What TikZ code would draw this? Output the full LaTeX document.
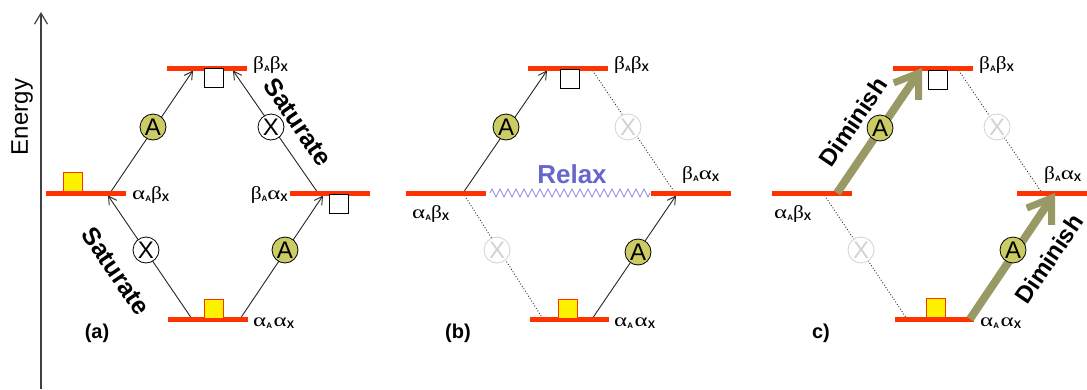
\documentclass[tikz,border=0pt]{standalone}
\usepackage{fontspec}
\setmainfont{Liberation Sans}
\newfontfamily\grkfont{Liberation Serif}
\usepackage{graphicx}
\usetikzlibrary{arrows.meta,decorations.pathmorphing}
\definecolor{lvl}{RGB}{255,51,0}
\definecolor{olv}{RGB}{204,204,102}
\definecolor{darr}{RGB}{153,153,102}
\definecolor{relaxtxt}{RGB}{102,102,204}
\definecolor{relaxln}{RGB}{140,140,225}
\definecolor{faint}{RGB}{210,210,210}
\newcommand\subA{\raisebox{-2.5pt}{\fontsize{8}{8}\selectfont\bfseries A}}
\newcommand\subX{\raisebox{-2.5pt}{\fontsize{11}{11}\selectfont\bfseries X}}
\newcommand\grb{\scalebox{1.15}[1]{\grkfont\fontsize{18.5}{18.5}\selectfont β}}
\newcommand\gra{\scalebox{1.35}[1]{\grkfont\fontsize{18.5}{18.5}\selectfont α}}
\newcommand\labBB{\grb\subA\grb\subX}
\newcommand\labAB{\gra\subA\grb\subX}
\newcommand\labBA{\grb\subA\gra\subX}
\newcommand\labAA{\gra\subA\,\gra\subX}
\tikzset{
  level/.style={line width=5pt, draw=lvl},
  thinarr/.style={line width=0.9pt, draw=black!85, -{Straight Barb[length=8pt,width=9pt]}},
  dots/.style={line width=0.9pt, dotted, draw=black!85},
  dimarr/.style={line width=8pt, draw=darr, -{Straight Barb[length=22pt,width=30pt,line width=7pt]}},
  circA/.style={circle, draw, fill=olv, minimum size=26pt, inner sep=0pt, line width=0.8pt, font=\fontsize{24}{24}\selectfont},
  circX/.style={circle, draw, fill=white, minimum size=26pt, inner sep=0pt, line width=0.8pt, font=\fontsize{24}{24}\selectfont},
  circF/.style={circle, draw=faint, text=faint, fill=white, minimum size=26pt, inner sep=0pt, line width=0.8pt, font=\fontsize{24}{24}\selectfont},
  wbox/.style={draw, fill=white, minimum size=19pt, inner sep=0pt, line width=0.8pt},
  ybox/.style={draw=lvl, fill=yellow, minimum size=19pt, inner sep=0pt, line width=0.8pt},
  big/.style={font=\fontsize{25}{25}\selectfont\bfseries, inner sep=0pt},
  lab/.style={inner sep=0pt},
  plab/.style={font=\fontsize{20}{20}\selectfont\bfseries, inner sep=0pt},
}
\begin{document}
\begin{tikzpicture}[x=1pt,y=-1pt]
\useasboundingbox (0,0) rectangle (1087,389);
\clip (0,0) rectangle (1087,389);
\fill[white] (0,0) rectangle (1087,389);
% energy axis
\coordinate (axB) at (41,389);
\coordinate (axT) at (41,12);
\draw[line width=1.2pt, draw=black!75, -{Straight Barb[length=11pt,width=13pt]}] (axB) -- (axT);
\node[rotate=90, font=\fontsize{24}{24}\selectfont, inner sep=0pt] (energy) at (22,117) {Energy};

% ===== panel a =====
\coordinate (aL1) at (110,193); \coordinate (aT1) at (193,70.5);
\coordinate (aR1) at (318,193); \coordinate (aT2) at (233,70.5);
\coordinate (aB1) at (192,319); \coordinate (aL2) at (108,195.5);
\coordinate (aB2) at (240,319); \coordinate (aR2) at (323,195.5);
\draw[thinarr] (aL1) -- (aT1);
\draw[thinarr] (aR1) -- (aT2);
\draw[thinarr] (aB1) -- (aL2);
\draw[thinarr] (aB2) -- (aR2);
\coordinate (aTs) at (167,68); \coordinate (aTe) at (247,68);
\coordinate (aLs) at (46,193); \coordinate (aLe) at (126,193);
\coordinate (aRs) at (290,193); \coordinate (aRe) at (370,193);
\coordinate (aBs) at (168,319); \coordinate (aBe) at (248,319);
\draw[level] (aTs) -- (aTe);
\draw[level] (aLs) -- (aLe);
\draw[level] (aRs) -- (aRe);
\draw[level] (aBs) -- (aBe);
\node[circA] (aA1) at (153,127) {A};
\node[circX] (aX1) at (271,127) {X};
\node[circX] (aX2) at (146,250) {X};
\node[circA] (aA2) at (285,250) {A};
\node[ybox] (aY1) at (72.5,181.5) {};
\node[wbox] (aW1) at (213.5,78) {};
\node[wbox] (aW2) at (339,204) {};
\node[ybox] (aY2) at (213.5,309) {};
\node[lab, anchor=base west] (abb) at (253,69) {\labBB};
\node[lab, anchor=base west] (aab) at (132,199) {\labAB};
\node[lab, anchor=base east] (aba) at (288,199) {\labBA};
\node[lab, anchor=base west] (aaa) at (253,326) {\labAA};
\node[big, rotate=-56] (asat1) at (298,122) {Saturate};
\node[big, rotate=-56] (asat2) at (116,271) {Saturate};
\node[plab] (apl) at (97,333) {(a)};

% ===== panel b =====
\coordinate (bL1) at (463,193); \coordinate (bT1) at (547,70.5);
\coordinate (bT2) at (591,68); \coordinate (bR1) at (675,193);
\coordinate (bL2) at (463,193); \coordinate (bB1) at (543,319);
\coordinate (bB2) at (592,319); \coordinate (bR2) at (676,195.5);
\draw[thinarr] (bL1) -- (bT1);
\draw[dots] (bT2) -- (bR1);
\draw[dots] (bL2) -- (bB1);
\draw[thinarr] (bB2) -- (bR2);
\coordinate (bRx1) at (490,193); \coordinate (bRx2) at (650,193);
\draw[relaxln, line width=0.7pt, decorate, decoration={zigzag, segment length=8pt, amplitude=4pt}] (bRx1) -- (bRx2);
\coordinate (bTs) at (528,68); \coordinate (bTe) at (608,68);
\coordinate (bLs) at (406,193); \coordinate (bLe) at (486,193);
\coordinate (bRs) at (651,193); \coordinate (bRe) at (731,193);
\coordinate (bBs) at (530,319); \coordinate (bBe) at (609,319);
\draw[level] (bTs) -- (bTe);
\draw[level] (bLs) -- (bLe);
\draw[level] (bRs) -- (bRe);
\draw[level] (bBs) -- (bBe);
\node[circA] (bA1) at (506,127) {A};
\node[circF] (bX1) at (628,127) {X};
\node[circF] (bX2) at (497,250) {X};
\node[circA] (bA2) at (638,252) {A};
\node[wbox] (bW1) at (569.5,78.5) {};
\node[ybox] (bY1) at (567.5,309) {};
\node[big, text=relaxtxt, font=\fontsize{26}{26}\selectfont\bfseries] (brelax) at (572,174) {Relax};
\node[lab, anchor=base west] (bbb) at (614,69) {\labBB};
\node[lab, anchor=base west] (bab) at (412,218) {\labAB};
\node[lab, anchor=base west] (bba) at (682,179) {\labBA};
\node[lab, anchor=base west] (baa) at (614,326) {\labAA};
\node[plab] (bpl) at (458,333) {(b)};

% ===== panel c =====
\coordinate (cL1) at (837,193); \coordinate (cT1) at (922,68);
\coordinate (cT2) at (957,68); \coordinate (cR1) at (1042,193);
\coordinate (cL2) at (823,193); \coordinate (cB1) at (907,319);
\coordinate (cB2) at (970,319); \coordinate (cR2) at (1055,193);
\draw[dots] (cT2) -- (cR1);
\draw[dots] (cL2) -- (cB1);
\coordinate (cTs) at (893,68); \coordinate (cTe) at (973,68);
\coordinate (cLs) at (772,193); \coordinate (cLe) at (852,193);
\coordinate (cRs) at (1017,193); \coordinate (cRe) at (1097,193);
\coordinate (cBs) at (895,319); \coordinate (cBe) at (974,319);
\draw[level] (cTs) -- (cTe);
\draw[level] (cLs) -- (cLe);
\draw[level] (cRs) -- (cRe);
\draw[level] (cBs) -- (cBe);
\draw[dimarr] (cL1) -- (cT1);
\draw[dimarr] (cB2) -- (cR2);
\node[circA] (cA1) at (880,128) {A};
\node[circF] (cX1) at (997,127) {X};
\node[circF] (cX2) at (861,250) {X};
\node[circA] (cA2) at (1013,250) {A};
\node[wbox] (cW1) at (937.5,79.5) {};
\node[ybox] (cY1) at (935.5,308) {};
\node[big, rotate=56, font=\fontsize{24}{24}\selectfont\bfseries] (cdim1) at (853,122) {Diminish};
\node[big, rotate=56, font=\fontsize{24}{24}\selectfont\bfseries] (cdim2) at (1049,259) {Diminish};
\node[lab, anchor=base west] (cbb) at (979,69) {\labBB};
\node[lab, anchor=base west] (cab) at (774,218) {\labAB};
\node[lab, anchor=base west] (cba) at (1044,179) {\labBA};
\node[lab, anchor=base west] (caa) at (980,326) {\labAA};
\node[plab] (cpl) at (821,333) {c)};
\end{tikzpicture}
\end{document}
